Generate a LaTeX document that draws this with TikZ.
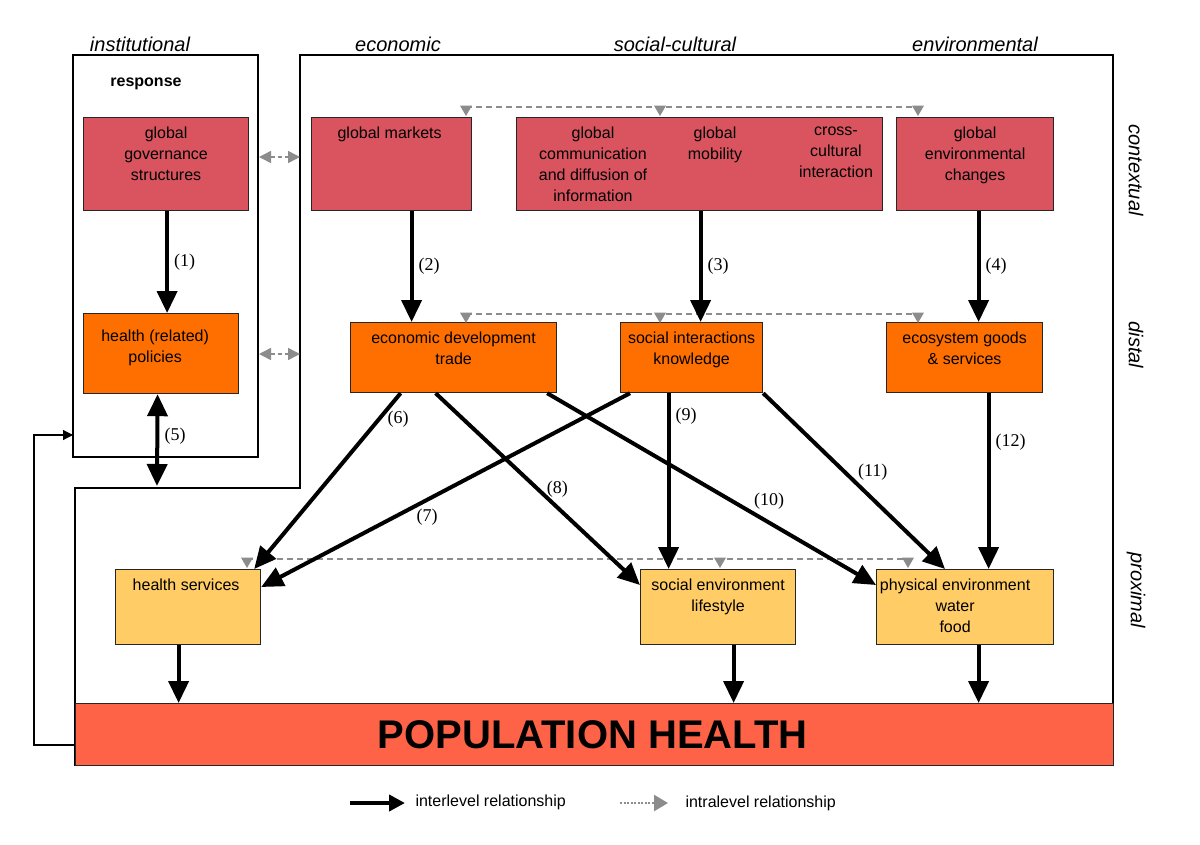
\documentclass[tikz,border=0pt]{standalone}
\usepackage{fontspec}
\setmainfont{Liberation Sans}
\newfontfamily\numfont{Liberation Serif}
\usetikzlibrary{arrows.meta,calc,shapes.geometric}
\definecolor{ctx}{HTML}{D9545E}
\definecolor{dst}{HTML}{FF6F00}
\definecolor{prx}{HTML}{FFCC66}
\definecolor{pop}{HTML}{FF6347}
\begin{document}
\begin{tikzpicture}[x=1pt,y=-1pt,
  box/.style={draw=black!85,line width=1.2pt,anchor=north west,inner sep=0pt},
  btxt/.style={anchor=north,align=center,font=\fontsize{16}{21}\selectfont,inner sep=0pt},
  inter/.style={line width=4pt,-{Triangle[length=22pt,width=20pt]}},
  intra/.style={gray!90,dashed,line width=1.5pt,dash pattern=on 6pt off 4pt},
  tri/.style={fill=gray!90,draw=none,regular polygon,regular polygon sides=3,shape border rotate=180,inner sep=0pt,minimum size=14pt},
  num/.style={font=\numfont\fontsize{18}{20}\selectfont,inner sep=1pt},
  hdr/.style={font=\itshape\fontsize{20}{22}\selectfont,inner sep=0pt}]
\useasboundingbox (0,0) rectangle (1200,844);
\fill[white] (0,0) rectangle (1200,844);
% frames
\draw[line width=1.2pt] (300,55) -- (1113,55) -- (1113,765) -- (75,765) -- (75,488) -- (300,488) -- cycle;
\draw[line width=1.2pt] (73,55) rectangle (258,457);
% headers
\node[hdr] (h1) at (140,44) {institutional};
\node[hdr] (h2) at (398,44) {economic};
\node[hdr] (h3) at (675,44) {social-cultural};
\node[hdr] (h4) at (975,44) {environmental};
\node[hdr,rotate=-90] (v1) at (1136,170) {contextual};
\node[hdr,rotate=-90] (v2) at (1136,345) {distal};
\node[hdr,rotate=-90] (v3) at (1136,590) {proximal};
\node[font=\bfseries\fontsize{16}{18}\selectfont] (resp) at (146,84) {response};
% contextual
\node[box,fill=ctx,minimum width=165pt,minimum height=93pt] (gg) at (83,117) {};
\node[btxt] at ($(gg.north)+(0,10)$) {global\\governance\\structures};
\node[box,fill=ctx,minimum width=160pt,minimum height=93pt] (gm) at (311,117) {};
\node[btxt] at ($(gm.north)+(-2,10)$) {global markets};
\node[box,fill=ctx,minimum width=366pt,minimum height=93pt] (sc) at (516,117) {};
\node[btxt] at (593,127) {global\\communication\\and diffusion of\\information};
\node[btxt] at (715,127) {global\\mobility};
\node[btxt] at (836,127) {cross-\\cultural\\interaction};
\node[box,fill=ctx,minimum width=157pt,minimum height=93pt] (ge) at (896,117) {};
\node[btxt] at ($(ge.north)+(0,10)$) {global\\environmental\\changes};
% distal
\node[box,fill=dst,minimum width=155pt,minimum height=80pt] (hp) at (83,313) {};
\node[btxt] at ($(hp.north)+(-6,17)$) {health (related)\\policies};
\node[box,fill=dst,minimum width=206pt,minimum height=70pt] (ed) at (350,322) {};
\node[btxt] at ($(ed.north)+(0,10)$) {economic development\\trade};
\node[box,fill=dst,minimum width=142pt,minimum height=70pt] (si) at (620,322) {};
\node[btxt] at ($(si.north)+(0,10)$) {social interactions\\knowledge};
\node[box,fill=dst,minimum width=156pt,minimum height=70pt] (eg) at (886,322) {};
\node[btxt] at ($(eg.north)+(0,10)$) {ecosystem goods\\\& services};
% proximal
\node[box,fill=prx,minimum width=145pt,minimum height=75pt] (hs) at (115,569) {};
\node[btxt] at ($(hs.north)+(-2,10)$) {health services};
\node[box,fill=prx,minimum width=155pt,minimum height=75pt] (se) at (640,569) {};
\node[btxt] at ($(se.north)+(0,10)$) {social environment\\lifestyle};
\node[box,fill=prx,minimum width=177pt,minimum height=75pt] (pe) at (876,569) {};
\node[btxt] at ($(pe.north)+(-10,10)$) {physical environment\\water\\food};
% population health
\node[box,fill=pop,minimum width=1038pt,minimum height=62pt] (ph) at (75,703) {};
\node[font=\bfseries\fontsize{40}{44}\selectfont] at ($(ph.center)+(-2,0)$) {POPULATION HEALTH};
% intralevel
\draw[intra] (466,107) -- (918,107);
\draw[intra] (466,314) -- (918,314);
\draw[intra] (247,559) -- (908,559);
\foreach \x/\y in {466/107,660/107,918/107,466/314,660/314,918/314,247/559,720/559,908/559}
  \node[tri] at (\x,\y+2) {};
\draw[intra,dash pattern=on 4pt off 3pt,{Triangle[length=12pt,width=12pt]}-{Triangle[length=12pt,width=12pt]}] (259,157) -- (300,157);
\draw[intra,dash pattern=on 4pt off 3pt,{Triangle[length=12pt,width=12pt]}-{Triangle[length=12pt,width=12pt]}] (259,354) -- (300,354);
% interlevel
\draw[inter] ([xshift=1]gg.south) -- ([xshift=1]gg.south |- hp.north) node[num,midway,right=4pt] {(1)};
\draw[inter] ([xshift=20]gm.south) -- ([xshift=20]gm.south |- ed.north) node[num,midway,right=4pt] {(2)};
\draw[inter] ([xshift=1]sc.south) -- ([xshift=1]sc.south |- si.north) node[num,midway,right=4pt] {(3)};
\draw[inter] ([xshift=3.5]ge.south) -- ([xshift=3.5]ge.south |- eg.north) node[num,midway,right=4pt] {(4)};
\coordinate (c5) at (157,486);
\draw[line width=4pt,{Triangle[length=22pt,width=20pt]}-{Triangle[length=22pt,width=20pt]}] ([xshift=-3.5]hp.south) -- (c5);
\node[num] at (175,436) {(5)};
\draw[inter] ([xshift=-53]ed.south) -- ([xshift=-7]hs.north east) node[num,pos=0.15,right=6pt] {(6)};
\draw[inter] ([xshift=10]si.south west) -- ([yshift=-18]hs.north east) node[num,pos=0.55,below=6pt] {(7)};
\draw[inter] ([xshift=-18]ed.south) -- ([yshift=-16]se.north west) node[num,pos=0.5,right=6pt] {(8)};
\draw[inter] ([xshift=-23]si.south) -- ([xshift=-23]si.south |- se.north) node[num,pos=0.13,right=4pt] {(9)};
\draw[inter] ([xshift=-10]ed.south east) -- ([yshift=-16]pe.north west) node[num,pos=0.62,above right=0pt] {(10)};
\draw[inter] (si.south east) -- ([xshift=69]pe.north west) node[num,pos=0.45,right=10pt] {(11)};
\draw[inter] ([xshift=24]eg.south) -- ([xshift=24]eg.south |- pe.north) node[num,pos=0.28,right=4pt] {(12)};
\draw[inter] ([xshift=-9.5]hs.south) -- ([xshift=-9.5]hs.south |- ph.north);
\draw[inter] ([xshift=15.5]se.south) -- ([xshift=15.5]se.south |- ph.north);
\draw[inter] ([xshift=13.5]pe.south) -- ([xshift=13.5]pe.south |- ph.north);
% feedback
\coordinate (fb) at (73,435);
\draw[line width=1.2pt,-{Triangle[length=10pt,width=10pt]}] (ph.west |- 0,745) -- (34,745) -- (34,435) -- (fb);
% legend
\coordinate (l1) at (350,803); \coordinate (l2) at (405,803);
\draw[inter,-{Triangle[length=16pt,width=16pt]}] (l1) -- (l2);
\node[anchor=west,font=\fontsize{16}{18}\selectfont] (lt1) at (412,802) {interlevel relationship};
\coordinate (l3) at (620,803); \coordinate (l4) at (668,803);
\draw[gray!90,line width=2.5pt,dash pattern=on 2pt off 1.5pt,-{Triangle[length=14pt,width=16pt]}] (l3) -- (l4);
\node[anchor=west,font=\fontsize{16}{18}\selectfont] (lt2) at (682,803) {intralevel relationship};
\end{tikzpicture}
\end{document}
